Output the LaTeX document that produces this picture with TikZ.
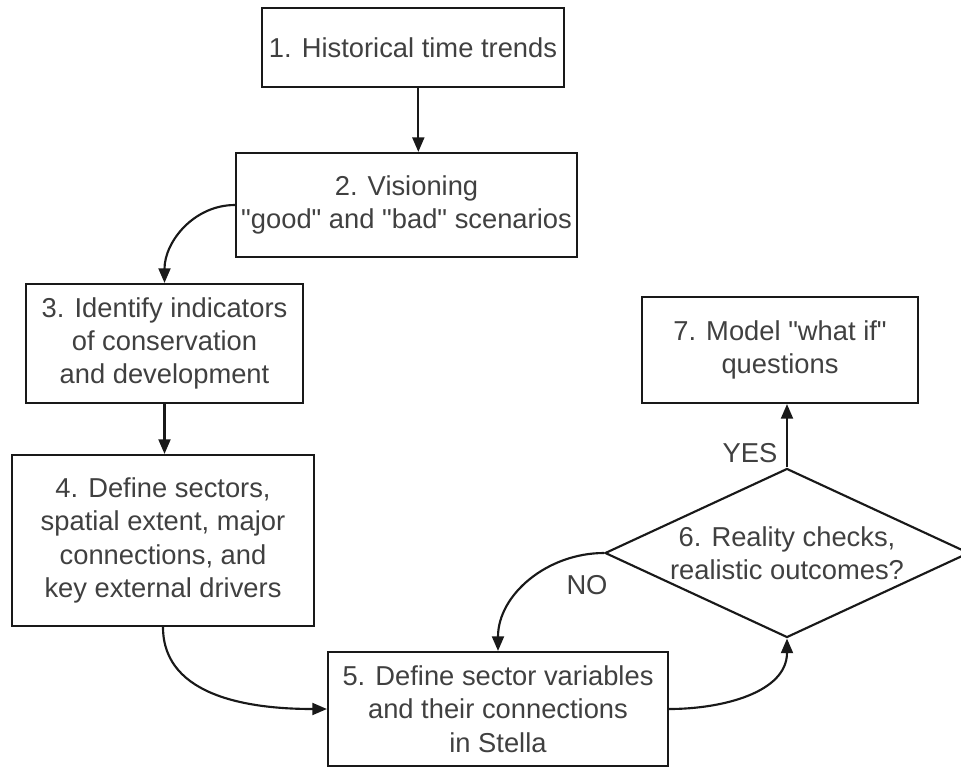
\documentclass[tikz,border=0pt]{standalone}
\usepackage{fontspec}
\setmainfont{Liberation Sans}[Ligatures=TeXOff]
\usetikzlibrary{shapes.geometric,arrows.meta}
\tikzset{
  stepbox/.style={draw=black!90,line width=1.6pt,align=center,text=black!75,
    inner sep=2pt,font=\fontsize{20.5}{25}\selectfont},
  decision/.style={diamond,shape aspect=2.15,draw=black!90,line width=1.6pt,align=center,text=black!75,
    inner sep=-6pt,font=\fontsize{20.5}{25}\selectfont},
  arr/.style={line width=1.6pt,black!90,-{Triangle[length=11pt,width=9pt]}},
  tag/.style={text=black!75,font=\fontsize{20.5}{25}\selectfont}
}
\begin{document}
\begin{tikzpicture}[x=0.75pt,y=-0.75pt]
\useasboundingbox (0,0) rectangle (961,769);
% steps
\node[stepbox,minimum width=226.5pt,minimum height=59.25pt] (b1) at (413,47.5) {1. Historical time trends};
\node[stepbox,minimum width=255.75pt,minimum height=78pt] (b2) at (406.5,205) {2. Visioning\\"good" and "bad" scenarios};
\node[stepbox,minimum width=207.75pt,minimum height=89.25pt] (b3) at (164.5,343.5) {3. Identify indicators\\of conservation\\and development};
\node[stepbox,minimum width=226.5pt,minimum height=128.25pt] (b4) at (163,540.5) {4. Define sectors,\\spatial extent, major\\connections, and\\key external drivers};
\node[stepbox,minimum width=255pt,minimum height=85.5pt] (b5) at (498,709) {5. Define sector variables\\and their connections\\in Stella};
\node[decision,minimum width=273pt,minimum height=126.75pt] (d6) at (787,553) {6. Reality checks,\\realistic outcomes?};
\node[stepbox,minimum width=207pt,minimum height=79.5pt] (b7) at (780,350) {7. Model "what if"\\questions};
% arrows
\draw[arr] ([xshift=4pt]b1.south) -- ([xshift=4pt]b1.south |- b2.north);
\draw[arr] (b2.west) to[out=180,in=90] (b3.north);
\draw[arr] (b3.south) -- (b3.south |- b4.north);
\draw[arr] (b4.south) to[out=-90,in=180] (b5.west);
\draw[arr] (b5.east) to[out=0,in=-90] (d6.south);
\draw[arr] (d6.west) to[out=180,in=90] (b5.north);
\draw[arr] (d6.north) -- (d6.north |- b7.south);
% answers
\node[tag] (no) at (587,585) {NO};
\node[tag] (yes) at (750,453) {YES};
\end{tikzpicture}
\end{document}
